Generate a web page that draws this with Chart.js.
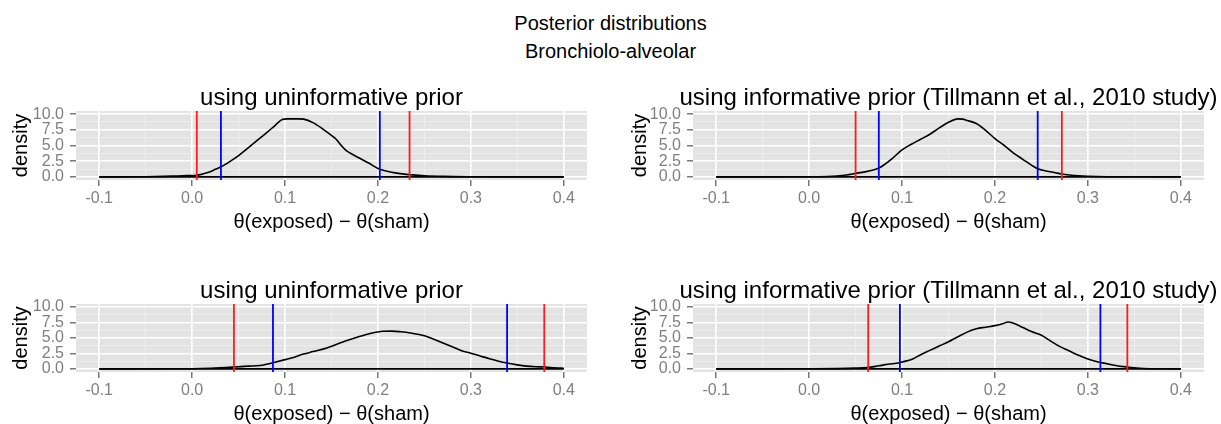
<!DOCTYPE html>
<html>
<head>
<meta charset="utf-8">
<script src="https://cdn.jsdelivr.net/npm/chart.js@4.4.1/dist/chart.umd.min.js"></script>
<style>
  html, body { margin: 0; padding: 0; background: #fff; overflow: hidden; }
  body { width: 1221px; height: 424px; position: relative; font-family: "Liberation Sans", Arial, sans-serif; }
  .main { position: absolute; left: 0; width: 1221px; text-align: center; font-size: 20px; line-height: 24px; color: #000; }
  canvas { position: absolute; }
</style>
</head>
<body>
<div class="main" style="top:11px">Posterior distributions</div>
<div class="main" style="top:39px">Bronchiolo-alveolar</div>
<canvas id="c0"></canvas>
<canvas id="c1"></canvas>
<canvas id="c2"></canvas>
<canvas id="c3"></canvas>
<script>
// axis ticks and limits
const xTicks = [-0.1, 0.0, 0.1, 0.2, 0.3, 0.4];
const yTicks = [0, 2.5, 5, 7.5, 10];
const yLimits = [-0.5, 10.5];
const xLabel = 'θ(exposed) − θ(sham)';
const yLabel = 'density';

const titles = [
  'using uninformative prior',
  'using informative prior (Tillmann et al., 2010 study)',
  'using uninformative prior',
  'using informative prior (Tillmann et al., 2010 study)'
];

// top left
const tlTheta = [-0.1, -0.05, -0.03, -0.02, -0.01, 0.0, 0.005, 0.01, 0.015, 0.02, 0.025, 0.031, 0.04, 0.05, 0.06, 0.07, 0.08, 0.09, 0.097, 0.102, 0.115, 0.12, 0.13, 0.14, 0.15, 0.155, 0.16, 0.165, 0.17, 0.18, 0.19, 0.2, 0.21, 0.22, 0.233, 0.25, 0.27, 0.3, 0.35, 0.4];
const tlDensity = [0, 0.02, 0.07, 0.12, 0.18, 0.22, 0.27, 0.4, 0.6, 0.85, 1.2, 1.6, 2.4, 3.4, 4.6, 5.8, 7.0, 8.3, 9.15, 9.25, 9.25, 9.2, 8.65, 7.7, 6.6, 6.0, 5.1, 4.3, 3.8, 3.0, 2.2, 1.35, 0.9, 0.6, 0.35, 0.17, 0.07, 0.02, 0, 0];
const tlOuter = [0.005, 0.234];
const tlInner = [0.031, 0.202];

// top right
const trTheta = [-0.1, 0.0, 0.02, 0.03, 0.04, 0.05, 0.06, 0.07, 0.075, 0.08, 0.09, 0.1, 0.11, 0.12, 0.13, 0.14, 0.15, 0.16, 0.165, 0.17, 0.18, 0.19, 0.2, 0.21, 0.22, 0.23, 0.24, 0.246, 0.255, 0.265, 0.272, 0.28, 0.29, 0.3, 0.32, 0.35, 0.4];
const trDensity = [0, 0.01, 0.06, 0.15, 0.3, 0.55, 0.8, 1.15, 1.4, 1.85, 3.0, 4.3, 5.2, 6.0, 6.8, 7.8, 8.7, 9.25, 9.2, 9.0, 8.5, 7.4, 6.1, 5.0, 3.8, 2.8, 1.8, 1.3, 0.95, 0.65, 0.45, 0.3, 0.17, 0.1, 0.03, 0.01, 0];
const trOuter = [0.05, 0.272];
const trInner = [0.075, 0.246];

// bottom left
const blTheta = [-0.1, 0.0, 0.02, 0.045, 0.06, 0.073, 0.08, 0.087, 0.1, 0.11, 0.12, 0.13, 0.145, 0.155, 0.165, 0.175, 0.185, 0.195, 0.205, 0.215, 0.225, 0.235, 0.25, 0.26, 0.27, 0.28, 0.29, 0.3, 0.31, 0.32, 0.33, 0.339, 0.35, 0.36, 0.37, 0.38, 0.39, 0.4];
const blDensity = [0, 0.03, 0.1, 0.3, 0.45, 0.55, 0.75, 1.0, 1.5, 1.9, 2.4, 2.8, 3.4, 3.95, 4.5, 5.0, 5.45, 5.85, 6.1, 6.12, 6.0, 5.8, 5.35, 4.8, 4.2, 3.6, 2.95, 2.55, 2.1, 1.65, 1.25, 0.95, 0.65, 0.45, 0.35, 0.3, 0.18, 0.1];
const blOuter = [0.045, 0.379];
const blInner = [0.087, 0.339];

// bottom right
const brTheta = [-0.1, 0.0, 0.03, 0.05, 0.063, 0.075, 0.085, 0.097, 0.105, 0.112, 0.12, 0.13, 0.14, 0.15, 0.16, 0.17, 0.18, 0.19, 0.2, 0.21, 0.214, 0.22, 0.23, 0.24, 0.25, 0.26, 0.27, 0.28, 0.29, 0.3, 0.31, 0.3135, 0.32, 0.33, 0.3425, 0.35, 0.36, 0.38, 0.4];
const brDensity = [0, 0.02, 0.05, 0.12, 0.22, 0.5, 0.75, 1.0, 1.3, 1.65, 2.3, 3.0, 3.7, 4.4, 5.2, 5.95, 6.5, 6.75, 7.0, 7.4, 7.6, 7.4, 6.7, 6.0, 5.45, 4.5, 3.6, 2.9, 2.2, 1.6, 1.15, 1.05, 0.85, 0.55, 0.3, 0.18, 0.07, 0.02, 0];
const brOuter = [0.0636, 0.3425];
const brInner = [0.0977, 0.3135];

const FONT = '"Liberation Sans", Arial, sans-serif';
Chart.defaults.font.family = FONT;

// ggplot-like 5% expansion of the x range
const xSpan = xTicks[xTicks.length - 1] - xTicks[0];
const xMin = xTicks[0] - 0.05 * xSpan;
const xMax = xTicks[xTicks.length - 1] + 0.05 * xSpan;

function withMinor(major) {
  const out = [];
  major.forEach((v, i) => {
    out.push({ value: v });
    if (i < major.length - 1) out.push({ value: (v + major[i + 1]) / 2, minor: true });
  });
  return out;
}

const panelBg = {
  id: 'panelBg',
  beforeDraw(chart) {
    const { ctx, chartArea: a } = chart;
    ctx.save();
    ctx.fillStyle = '#e3e3e3';
    ctx.fillRect(a.left, a.top, a.right - a.left, a.bottom - a.top);
    ctx.restore();
  }
};

const panelTitle = {
  id: 'panelTitle',
  afterDraw(chart, args, opts) {
    const { ctx, chartArea: a } = chart;
    ctx.save();
    ctx.font = '24px ' + FONT;
    ctx.fillStyle = '#000';
    ctx.textAlign = 'center';
    ctx.textBaseline = 'middle';
    ctx.fillText(opts.text, (a.left + a.right) / 2, a.top - 13);
    ctx.restore();
  }
};

const gridColor = c => (c.tick && c.tick.minor) ? 'rgba(255,255,255,0.55)' : '#ffffff';
const gridWidth = c => (c.tick && c.tick.minor) ? 0.7 : 1.6;
const tickColor = c => (c.tick && c.tick.minor) ? 'rgba(0,0,0,0)' : '#555555';

const panels = [
  { id: 'c0', left: 0,   top: 80,  chartH: 69, yAxisW: 76, yTitlePad: 9,  padRight: 23, theta: tlTheta, dens: tlDensity, outer: tlOuter, inner: tlInner },
  { id: 'c1', left: 611, top: 80,  chartH: 69, yAxisW: 82, yTitlePad: 17, padRight: 17, theta: trTheta, dens: trDensity, outer: trOuter, inner: trInner },
  { id: 'c2', left: 0,   top: 273, chartH: 68, yAxisW: 76, yTitlePad: 9,  padRight: 23, theta: blTheta, dens: blDensity, outer: blOuter, inner: blInner },
  { id: 'c3', left: 611, top: 273, chartH: 68, yAxisW: 82, yTitlePad: 17, padRight: 17, theta: brTheta, dens: brDensity, outer: brOuter, inner: brInner }
];

const PAD_TOP = 31, X_AXIS_H = 60, W = 610;

panels.forEach((p, k) => {
  const cv = document.getElementById(p.id);
  cv.width = W;
  cv.height = PAD_TOP + p.chartH + X_AXIS_H;
  cv.style.left = p.left + 'px';
  cv.style.top = p.top + 'px';

  const vline = (v, color) => ({
    data: [{ x: v, y: yLimits[0] }, { x: v, y: yLimits[1] }],
    borderColor: color, borderWidth: 1.8, pointRadius: 0
  });

  const datasets = [
    ...p.outer.map(v => vline(v, '#ff1a1a')),
    ...p.inner.map(v => vline(v, '#0000ff')),
    {
      data: [{ x: p.theta[0], y: 0 }, { x: p.theta[p.theta.length - 1], y: 0 }],
      borderColor: '#000', borderWidth: 1.6, pointRadius: 0
    },
    {
      data: p.theta.map((t, i) => ({ x: t, y: p.dens[i] })),
      borderColor: '#000', borderWidth: 1.6, pointRadius: 0,
      cubicInterpolationMode: 'monotone'
    }
  ];

  new Chart(cv, {
    type: 'line',
    data: { datasets },
    plugins: [panelBg, panelTitle],
    options: {
      responsive: false,
      animation: false,
      devicePixelRatio: 1,
      layout: { padding: { top: PAD_TOP, left: 0, right: p.padRight, bottom: 0 } },
      plugins: {
        legend: { display: false },
        tooltip: { enabled: false },
        panelTitle: { text: titles[k] }
      },
      scales: {
        x: {
          type: 'linear', min: xMin, max: xMax,
          afterBuildTicks: s => { s.ticks = withMinor(xTicks); },
          afterFit: s => { s.height = X_AXIS_H; },
          border: { display: false },
          grid: { color: gridColor, lineWidth: gridWidth, tickColor: tickColor, tickLength: 6, tickWidth: 1.2 },
          ticks: {
            autoSkip: false, maxRotation: 0, padding: 3,
            color: '#7f7f7f', font: { size: 16 },
            callback: (v, i, t) => t[i].minor ? '' : v.toFixed(1)
          },
          title: { display: true, text: xLabel, color: '#000', font: { size: 20 }, padding: { top: 0, bottom: 6 } }
        },
        y: {
          type: 'linear', min: yLimits[0], max: yLimits[1],
          afterBuildTicks: s => { s.ticks = withMinor(yTicks); },
          afterFit: s => { s.width = p.yAxisW; },
          border: { display: false },
          grid: { color: gridColor, lineWidth: gridWidth, tickColor: tickColor, tickLength: 6, tickWidth: 1.2 },
          ticks: {
            autoSkip: false, padding: 6,
            color: '#7f7f7f', font: { size: 16 },
            callback: (v, i, t) => t[i].minor ? '' : v.toFixed(1)
          },
          title: { display: true, text: yLabel, color: '#000', font: { size: 20 }, padding: { top: p.yTitlePad, bottom: 0 } }
        }
      }
    }
  });
});
</script>
</body>
</html>
